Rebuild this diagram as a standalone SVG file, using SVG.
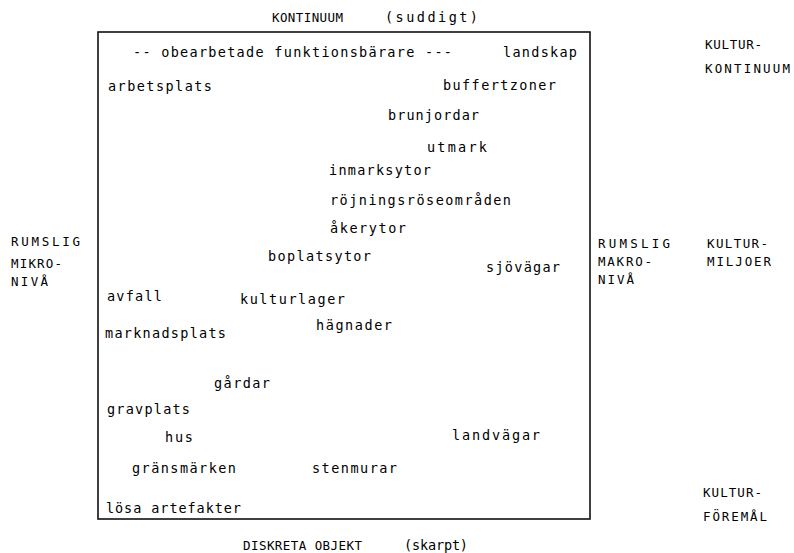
<svg xmlns="http://www.w3.org/2000/svg" width="794" height="553" viewBox="0 0 794 553">
<style>
text{font-family:"DejaVu Sans Mono","Liberation Mono",monospace;font-size:13.5px;fill:#000}
.cap{font-size:12.5px}
.frame{fill:none;stroke:#111;stroke-width:1.6}
</style>
<rect width="794" height="553" fill="#fff"/>
<g id="frame"><rect class="frame" x="98" y="32" width="492" height="487"/></g>
<g id="top-axis"><text class="cap" x="272" y="22" textLength="71" lengthAdjust="spacing">KONTINUUM</text><text x="385" y="22" textLength="93" lengthAdjust="spacing">(suddigt)</text></g>
<g id="bottom-axis"><text class="cap" x="243" y="550" textLength="119" lengthAdjust="spacing">DISKRETA OBJEKT</text><text x="404" y="550" textLength="64" lengthAdjust="spacing">(skarpt)</text></g>
<g id="left-axis"><text class="cap" x="11" y="246" textLength="69" lengthAdjust="spacing">RUMSLIG</text><text class="cap" x="11" y="268" textLength="51" lengthAdjust="spacing">MIKRO-</text><text class="cap" x="11" y="286" textLength="37" lengthAdjust="spacing">NIVÅ</text></g>
<g id="right-axis"><text class="cap" x="598" y="248" textLength="72" lengthAdjust="spacing">RUMSLIG</text><text class="cap" x="598" y="266" textLength="54" lengthAdjust="spacing">MAKRO-</text><text class="cap" x="598" y="284" textLength="36" lengthAdjust="spacing">NIVÅ</text></g>
<g id="kulturkontinuum"><text class="cap" x="705" y="49" textLength="57" lengthAdjust="spacing">KULTUR-</text><text class="cap" x="705" y="73" textLength="85" lengthAdjust="spacing">KONTINUUM</text></g>
<g id="kulturmiljoer"><text class="cap" x="707" y="248" textLength="61" lengthAdjust="spacing">KULTUR-</text><text class="cap" x="707" y="266" textLength="64" lengthAdjust="spacing">MILJOER</text></g>
<g id="kulturforemal"><text class="cap" x="703" y="497" textLength="59" lengthAdjust="spacing">KULTUR-</text><text class="cap" x="703" y="521" textLength="64" lengthAdjust="spacing">FÖREMÅL</text></g>
<g id="obearbetade"><text x="133" y="57" textLength="319" lengthAdjust="spacing">-- obearbetade funktionsbärare ---</text></g>
<g id="landskap"><text x="503" y="57" textLength="74" lengthAdjust="spacing">landskap</text></g>
<g id="arbetsplats"><text x="108" y="91" textLength="104" lengthAdjust="spacing">arbetsplats</text></g>
<g id="buffertzoner"><text x="443" y="90" textLength="113" lengthAdjust="spacing">buffertzoner</text></g>
<g id="brunjordar"><text x="388" y="120" textLength="91" lengthAdjust="spacing">brunjordar</text></g>
<g id="utmark"><text x="427" y="152" textLength="60" lengthAdjust="spacing">utmark</text></g>
<g id="inmarksytor"><text x="329" y="175" textLength="102" lengthAdjust="spacing">inmarksytor</text></g>
<g id="rojningsroseomraden"><text x="330" y="205" textLength="181" lengthAdjust="spacing">röjningsröseområden</text></g>
<g id="akerytor"><text x="330" y="233" textLength="76" lengthAdjust="spacing">åkerytor</text></g>
<g id="boplatsytor"><text x="268" y="261" textLength="103" lengthAdjust="spacing">boplatsytor</text></g>
<g id="sjovagar"><text x="486" y="272" textLength="74" lengthAdjust="spacing">sjövägar</text></g>
<g id="avfall"><text x="107" y="301" textLength="55" lengthAdjust="spacing">avfall</text></g>
<g id="kulturlager"><text x="240" y="304" textLength="105" lengthAdjust="spacing">kulturlager</text></g>
<g id="hagnader"><text x="316" y="330" textLength="76" lengthAdjust="spacing">hägnader</text></g>
<g id="marknadsplats"><text x="105" y="338" textLength="121" lengthAdjust="spacing">marknadsplats</text></g>
<g id="gardar"><text x="214" y="388" textLength="56" lengthAdjust="spacing">gårdar</text></g>
<g id="gravplats"><text x="107" y="414" textLength="83" lengthAdjust="spacing">gravplats</text></g>
<g id="hus"><text x="165" y="442" textLength="28" lengthAdjust="spacing">hus</text></g>
<g id="landvagar"><text x="452" y="440" textLength="88" lengthAdjust="spacing">landvägar</text></g>
<g id="gransmarken"><text x="132" y="473" textLength="104" lengthAdjust="spacing">gränsmärken</text></g>
<g id="stenmurar"><text x="312" y="473" textLength="85" lengthAdjust="spacing">stenmurar</text></g>
<g id="losa-artefakter"><text x="106" y="513" textLength="135" lengthAdjust="spacing">lösa artefakter</text></g>
</svg>
